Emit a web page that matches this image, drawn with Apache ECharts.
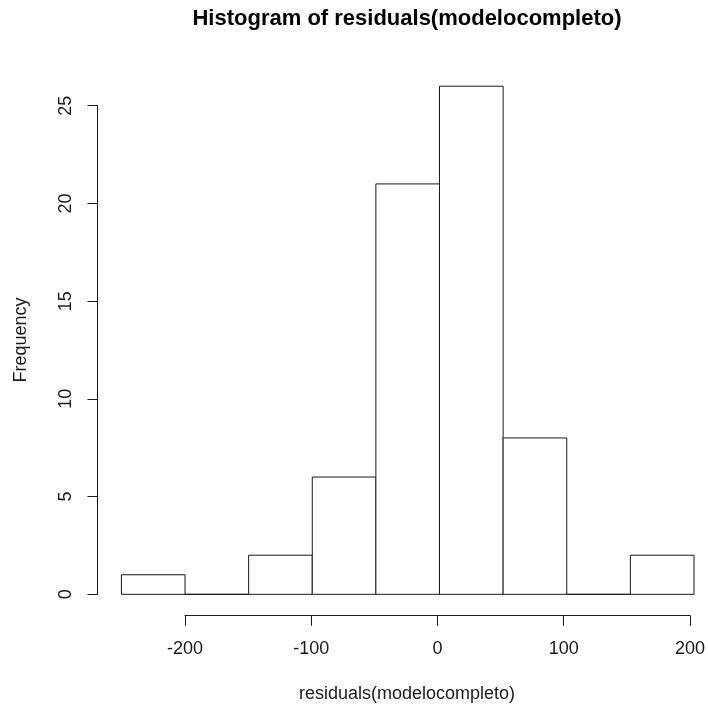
<!DOCTYPE html>
<html>
<head>
<meta charset="utf-8">
<script src="https://cdn.jsdelivr.net/npm/echarts@6/dist/echarts.min.js"></script>
<style>
  html, body { margin: 0; padding: 0; background: #fff; }
  #main { width: 708px; height: 704px; }
</style>
</head>
<body>
<div id="main"></div>
<script>
// histogram bins (breaks) and counts
const binStart = [-250, -200, -150, -100, -50, 0, 50, 100, 150]
const binEnd = [-200, -150, -100, -50, 0, 50, 100, 150, 200]
const counts = [1, 0, 2, 6, 21, 26, 8, 0, 2]
const xTicks = [-200, -100, 0, 100, 200]
const yTicks = [0, 5, 10, 15, 20, 25]

const font = 'Liberation Sans, Arial, sans-serif'
const ink = '#1a1a1a'

const barData = binStart.map(function(s, i) {
  return [s, binEnd[i], counts[i]]
})

const myChart = echarts.init(document.getElementById('main'))
const option = {
  animation: false,
  backgroundColor: '#fff',
  grid: [
    // plot area for bars: x -250..200, y 0..26
    { left: 121.4, width: 572.6, top: 86.2, height: 508.1 },
    // x axis drawn below, only -200..200
    { left: 185, width: 509, top: 86.2, height: 529.5 },
    // y axis drawn left, only 0..25
    { left: 97.5, width: 596, top: 105.7, height: 488.6 }
  ],
  xAxis: [
    { gridIndex: 0, type: 'value', min: -250, max: 200, show: false },
    {
      gridIndex: 1, type: 'value', min: -200, max: 200, interval: 100,
      axisLine: { show: true, lineStyle: { color: ink, width: 1 } },
      axisTick: { show: true, length: 10, lineStyle: { color: ink } },
      axisLabel: {
        margin: 24, fontSize: 18, fontFamily: font, color: ink,
        customValues: xTicks
      },
      splitLine: { show: false }
    },
    { gridIndex: 2, type: 'value', min: 0, max: 1, show: false }
  ],
  yAxis: [
    { gridIndex: 0, type: 'value', min: 0, max: 26, show: false },
    { gridIndex: 1, type: 'value', min: 0, max: 1, show: false },
    {
      gridIndex: 2, type: 'value', min: 0, max: 25, interval: 5,
      axisLine: { show: true, lineStyle: { color: ink, width: 1 } },
      axisTick: { show: true, length: 10, lineStyle: { color: ink } },
      axisLabel: {
        margin: 22, fontSize: 18, fontFamily: font, color: ink, rotate: 90,
        customValues: yTicks
      },
      splitLine: { show: false }
    }
  ],
  series: [{
    type: 'custom',
    xAxisIndex: 0,
    yAxisIndex: 0,
    data: barData,
    renderItem: function(params, api) {
      const p0 = api.coord([api.value(0), api.value(2)])
      const p1 = api.coord([api.value(1), 0])
      return {
        type: 'rect',
        shape: { x: p0[0], y: p0[1], width: p1[0] - p0[0], height: p1[1] - p0[1] },
        style: { fill: '#fff', stroke: ink, lineWidth: 1 }
      }
    }
  }],
  graphic: [
    {
      type: 'text', x: 407, y: 19,
      style: {
        text: 'Histogram of residuals(modelocompleto)',
        font: 'bold 22px ' + font, fill: '#000',
        textAlign: 'center', textVerticalAlign: 'middle'
      }
    },
    {
      type: 'text', x: 407, y: 694,
      style: {
        text: 'residuals(modelocompleto)',
        font: '18px ' + font, fill: ink,
        textAlign: 'center', textVerticalAlign: 'middle'
      }
    },
    {
      type: 'text', x: 21, y: 340, rotation: Math.PI / 2,
      style: {
        text: 'Frequency',
        font: '18px ' + font, fill: ink,
        textAlign: 'center', textVerticalAlign: 'middle'
      }
    }
  ]
}
myChart.setOption(option)
</script>
</body>
</html>
